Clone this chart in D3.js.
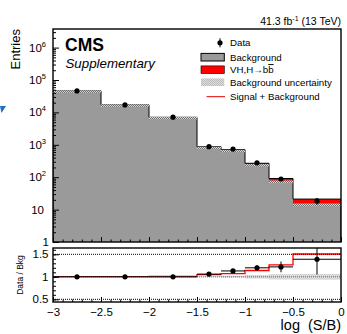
<!DOCTYPE html>
<html><head><meta charset="utf-8">
<script src="https://cdn.jsdelivr.net/npm/d3@7"></script>
<style>
html,body{margin:0;padding:0;background:#fff;}
svg{display:block;font-family:"Liberation Sans",Arial,Helvetica,sans-serif;}
</style></head>
<body>
<svg id="c" width="347" height="334"></svg>
<script>
// ---- data ----
const binEdges   = [-3, -2.5, -2, -1.5, -1.25, -1, -0.75, -0.5, 0];
const dataCounts = [46000, 17000, 7100, 875, 740, 278, 88, 18.5];
const bkgCounts  = [46000, 17000, 7000, 830, 665, 236, 72, 14];
const sigCounts  = [90, 60, 45, 41, 47, 33, 19, 7.1];
const bkgUnc     = [0.004, 0.005, 0.008, 0.012, 0.02, 0.04, 0.06, 0.065];
const ratioVals  = [1.0, 1.0, 1.0, 1.06, 1.13, 1.2, 1.22, 1.39];
const ratioErr   = [0.006, 0.008, 0.012, 0.035, 0.04, 0.06, 0.12, 0.34];
const xTickVals  = [-3, -2.5, -2, -1.5, -1, -0.5, 0];
const xTickLabels= ["\u22123", "\u22122.5", "\u22122", "\u22121.5", "\u22121", "\u22120.5", "0"];
const yDecades   = [1, 10, 100, 1000, 10000, 100000, 1000000];
const yDecadeLabels = [["1",""],["10",""],["10","2"],["10","3"],["10","4"],["10","5"],["10","6"]];
const rTickVals  = [0.5, 1, 1.5];
const rTickLabels= ["0.5", "1", "1.5"];
const legendItems = ["Data", "Background", "VH,H\u2192b", "Background uncertainty", "Signal + Background"];

// ---- layout ----
const L = 53, R = 341, T = 29, B = 242, RT = 248, RB = 302;
const svg = d3.select("#c");
const x  = d3.scaleLinear().domain([-3, 0]).range([L, R]);
const y  = d3.scaleLog().domain([1, 3.75e6]).range([B, T]).clamp(true);
const yr = d3.scaleLinear().domain([0.44, 1.64]).range([RB, RT]);

const defs = svg.append("defs");
const pat = defs.append("pattern").attr("id","hatch").attr("width",2).attr("height",2).attr("patternUnits","userSpaceOnUse");
pat.append("rect").attr("width",2).attr("height",2).attr("fill","#d8d8d8");
pat.append("rect").attr("width",1).attr("height",1).attr("fill","#6f6f6f");
pat.append("rect").attr("x",1).attr("y",1).attr("width",1).attr("height",1).attr("fill","#6f6f6f");
const pat2 = defs.append("pattern").attr("id","hatch2").attr("width",2).attr("height",2).attr("patternUnits","userSpaceOnUse");
pat2.append("rect").attr("width",1).attr("height",1).attr("fill","#bdbdbd");
pat2.append("rect").attr("x",1).attr("y",1).attr("width",1).attr("height",1).attr("fill","#bdbdbd");
pat2.append("rect").attr("x",1).attr("y",0).attr("width",1).attr("height",1).attr("fill","#dcdcdc");
pat2.append("rect").attr("x",0).attr("y",1).attr("width",1).attr("height",1).attr("fill","#dcdcdc");
defs.append("clipPath").attr("id","mainclip").append("rect").attr("x",L).attr("y",T).attr("width",R-L).attr("height",B-T);
defs.append("clipPath").attr("id","ratclip").append("rect").attr("x",L).attr("y",RT).attr("width",R-L).attr("height",RB-RT);

const bins = bkgCounts.map((b,i)=>({x0:binEdges[i], x1:binEdges[i+1], b, s:sigCounts[i], d:dataCounts[i], u:bkgUnc[i], r:ratioVals[i], re:ratioErr[i]}));

// ---- main panel ----
const gm = svg.append("g").attr("clip-path","url(#mainclip)");
gm.selectAll("rect.bkg").data(bins).join("rect").attr("class","bkg")
  .attr("x",d=>x(d.x0)).attr("width",d=>x(d.x1)-x(d.x0))
  .attr("y",d=>y(d.b)).attr("height",d=>B-y(d.b)).attr("fill","#9a9a9a");
gm.selectAll("rect.sig").data(bins).join("rect").attr("class","sig")
  .attr("x",d=>x(d.x0)).attr("width",d=>x(d.x1)-x(d.x0))
  .attr("y",d=>y(d.b+d.s)).attr("height",d=>y(d.b)-y(d.b+d.s)).attr("fill","#ff0000");
const stepPts = (acc)=>{const p=[[binEdges[0],1]]; bins.forEach(d=>{p.push([d.x0,acc(d)]);p.push([d.x1,acc(d)]);}); p.push([binEdges[binEdges.length-1],1]); return p;};
const stepLine = d3.line().x(p=>x(p[0])).y(p=>y(p[1]));
gm.append("path").attr("d",stepLine(stepPts(d=>d.b+d.s))).attr("fill","none").attr("stroke","#000").attr("stroke-width",1);
gm.selectAll("rect.unc").data(bins).join("rect").attr("class","unc")
  .attr("x",d=>x(d.x0)).attr("width",d=>x(d.x1)-x(d.x0))
  .attr("y",d=>y(d.b*(1+d.u))-0.5).attr("height",d=>Math.max(2.5,y(d.b*(1-d.u))-y(d.b*(1+d.u))+1))
  .attr("fill","url(#hatch)");
// data
gm.selectAll("line.err").data(bins).join("line").attr("class","err")
  .attr("x1",d=>x((d.x0+d.x1)/2)).attr("x2",d=>x((d.x0+d.x1)/2))
  .attr("y1",d=>y(d.d+Math.sqrt(d.d))).attr("y2",d=>y(Math.max(d.d-Math.sqrt(d.d),1)))
  .attr("stroke","#000").attr("stroke-width",1);
gm.selectAll("circle.pt").data(bins).join("circle").attr("class","pt")
  .attr("cx",d=>x((d.x0+d.x1)/2)).attr("cy",d=>y(d.d)).attr("r",2.6).attr("fill","#000");

// main axes ticks (inward)
const minorX = d3.range(-3, 0.0001, 0.1).map(v=>+v.toFixed(2));
svg.append("g").attr("transform",`translate(0,${B})`)
  .call(d3.axisBottom(x).tickValues(minorX).tickSize(-2.5).tickFormat(""))
  .call(g=>g.select(".domain").remove());
svg.append("g").attr("transform",`translate(0,${B})`)
  .call(d3.axisBottom(x).tickValues(xTickVals).tickSize(-5).tickFormat(""))
  .call(g=>g.select(".domain").remove());
const minorY = [];
for (let e=0;e<7;e++) for (let k=2;k<10;k++){ const v=k*Math.pow(10,e); if (v<3.75e6) minorY.push(v); }
svg.append("g").attr("transform",`translate(${L},0)`)
  .call(d3.axisLeft(y).tickValues(minorY).tickSize(-3).tickFormat(""))
  .call(g=>g.select(".domain").remove());
svg.append("g").attr("transform",`translate(${L},0)`)
  .call(d3.axisLeft(y).tickValues(yDecades).tickSize(-6).tickFormat(""))
  .call(g=>g.select(".domain").remove());
svg.selectAll(".tick line").attr("stroke","#000").attr("stroke-width",1);

// y labels
const ylab = svg.append("g").attr("font-size","11.5px").attr("fill","#000");
yDecades.forEach((v,i)=>{
  const [base, sup] = yDecadeLabels[i];
  const xr = sup ? 46 : (base==="10" ? 44 : 49);
  const t = ylab.append("text").attr("x",xr).attr("y",y(v)+4).attr("text-anchor","end");
  t.append("tspan").text(base);
  if (sup) t.append("tspan").attr("dy",-5).attr("font-size","7.5px").text(sup);
});

// frame main
svg.append("rect").attr("x",L).attr("y",T).attr("width",R-L).attr("height",B-T).attr("fill","none").attr("stroke","#000").attr("stroke-width",1.4);

// ---- ratio panel ----
const gr = svg.append("g").attr("clip-path","url(#ratclip)");
const rPts = []; bins.forEach(d=>{rPts.push([d.x0,(d.b+d.s)/d.b]);rPts.push([d.x1,(d.b+d.s)/d.b]);});
gr.append("path").attr("d",d3.line().x(p=>x(p[0])).y(p=>yr(p[1]))(rPts)).attr("fill","none").attr("stroke","#ff0000").attr("stroke-width",1.3);
gr.selectAll("rect.runc").data(bins).join("rect").attr("class","runc")
  .attr("x",d=>x(d.x0)).attr("width",d=>x(d.x1)-x(d.x0))
  .attr("y",d=>yr(1+d.u)).attr("height",d=>Math.max(0.8,yr(1-d.u)-yr(1+d.u)))
  .attr("fill","url(#hatch2)").attr("opacity",0.75);
gr.selectAll("line.ref").data(rTickVals).join("line").attr("class","ref")
  .attr("x1",L).attr("x2",R).attr("y1",d=>yr(d)).attr("y2",d=>yr(d))
  .attr("stroke","#000").attr("stroke-width",1).attr("stroke-dasharray","1,1").attr("opacity",d=>d===1?0.5:1);
gr.selectAll("line.rx").data(bins).join("line").attr("class","rx")
  .attr("x1",d=>x(d.x0)).attr("x2",d=>x(d.x1)).attr("y1",d=>yr(d.r)).attr("y2",d=>yr(d.r))
  .attr("stroke","#000").attr("stroke-width",1);
gr.selectAll("line.ry").data(bins).join("line").attr("class","ry")
  .attr("x1",d=>x((d.x0+d.x1)/2)).attr("x2",d=>x((d.x0+d.x1)/2))
  .attr("y1",d=>yr(d.r+d.re)).attr("y2",d=>yr(d.r-d.re))
  .attr("stroke","#000").attr("stroke-width",1);
gr.selectAll("circle.rp").data(bins).join("circle").attr("class","rp")
  .attr("cx",d=>x((d.x0+d.x1)/2)).attr("cy",d=>yr(d.r)).attr("r",2.6).attr("fill","#000");

// ratio ticks
svg.append("g").attr("transform",`translate(0,${RB})`)
  .call(d3.axisBottom(x).tickValues(minorX).tickSize(-2.5).tickFormat(""))
  .call(g=>g.select(".domain").remove());
const ax2 = svg.append("g").attr("transform",`translate(0,${RB})`)
  .call(d3.axisBottom(x).tickValues(xTickVals).tickSize(-5).tickPadding(6).tickFormat((d,i)=>xTickLabels[i]))
  .call(g=>g.select(".domain").remove());
ax2.selectAll("text").attr("font-size","11.5px").attr("font-family","Liberation Sans, Arial, sans-serif").attr("fill","#000");
const rMinor = d3.range(0.5, 1.61, 0.1).map(v=>+v.toFixed(2));
svg.append("g").attr("transform",`translate(${L},0)`)
  .call(d3.axisLeft(yr).tickValues(rMinor).tickSize(-3).tickFormat(""))
  .call(g=>g.select(".domain").remove());
const ay = svg.append("g").attr("transform",`translate(${L},0)`)
  .call(d3.axisLeft(yr).tickValues(rTickVals).tickSize(-6).tickPadding(4.5).tickFormat((d,i)=>rTickLabels[i]))
  .call(g=>g.select(".domain").remove());
ay.selectAll("text").attr("font-size","11.5px").attr("font-family","Liberation Sans, Arial, sans-serif").attr("fill","#000");
svg.selectAll(".tick line").attr("stroke","#000").attr("stroke-width",1);

svg.append("rect").attr("x",L).attr("y",RT).attr("width",R-L).attr("height",RB-RT).attr("fill","none").attr("stroke","#000").attr("stroke-width",1.4);

// ---- texts ----
svg.append("text").attr("transform","translate(20,29) rotate(-90)").attr("text-anchor","end")
  .attr("font-size","13px").text("Entries");
svg.append("text").attr("transform",`translate(23,${(RT+RB)/2}) rotate(-90)`).attr("text-anchor","middle")
  .attr("font-size","8.5px").text("Data / Bkg");
const xt = svg.append("text").attr("x",R).attr("y",330).attr("text-anchor","end").attr("font-size","14.5px");
xt.append("tspan").text("log");
xt.append("tspan").attr("dx",8).text("(S/B)");

svg.append("text").attr("x",65).attr("y",51).attr("font-size","17.5px").attr("font-weight","bold").text("CMS");
svg.append("text").attr("x",65.5).attr("y",68).attr("font-size","13.3px").attr("font-style","italic").text("Supplementary");

const lumi = svg.append("text").attr("x",341).attr("y",25).attr("text-anchor","end").attr("font-size","10.5px");
lumi.append("tspan").text("41.3 fb");
lumi.append("tspan").attr("dy",-4).attr("font-size","7px").text("-1");
lumi.append("tspan").attr("dy",4).text(" (13 TeV)");

// ---- legend ----
const legY = [42.8, 57.2, 69.7, 82.2, 96.7];
const lg = svg.append("g");
lg.append("line").attr("x1",220).attr("x2",220).attr("y1",legY[0]-4.5).attr("y2",legY[0]+4.5).attr("stroke","#000");
lg.append("circle").attr("cx",220).attr("cy",legY[0]).attr("r",2.6).attr("fill","#000");
lg.append("rect").attr("x",201).attr("y",legY[1]-3.8).attr("width",23.3).attr("height",7.6).attr("fill","#9a9a9a").attr("stroke","#000").attr("stroke-width",1);
lg.append("rect").attr("x",201).attr("y",legY[2]-3.8).attr("width",23.3).attr("height",7.6).attr("fill","#ff0000").attr("stroke","#000").attr("stroke-width",0.6);
lg.append("rect").attr("x",201).attr("y",legY[3]-3.8).attr("width",23.3).attr("height",7.6).attr("fill","url(#hatch2)");
lg.append("line").attr("x1",206.5).attr("x2",225).attr("y1",legY[4]).attr("y2",legY[4]).attr("stroke","#e00000").attr("stroke-width",1);
legendItems.forEach((t,i)=>{
  const tx = lg.append("text").attr("x",230).attr("y",legY[i]+3.4).attr("font-size","9.7px");
  if (i===2){ tx.append("tspan").text(t); tx.append("tspan").attr("text-decoration","overline").text("b"); }
  else tx.text(t);
});

svg.append("path").attr("d","M0,106 L6,106 L1.5,113 Z").attr("fill","#1f6fc0");
</script>
</body></html>
